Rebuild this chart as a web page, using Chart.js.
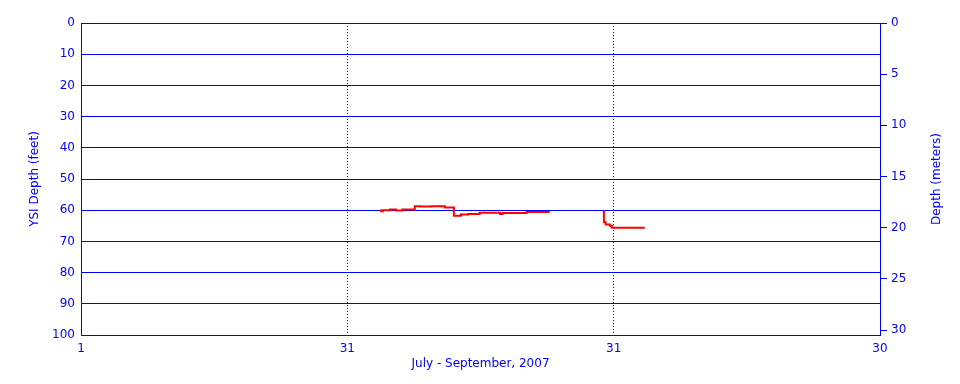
<!DOCTYPE html>
<html>
<head>
<meta charset="utf-8">
<script src="https://cdn.jsdelivr.net/npm/chart.js@4"></script>
<style>
  html, body { margin: 0; padding: 0; background: #fff; }
  canvas { display: block; }
</style>
</head>
<body>
<canvas id="depthChart" width="960" height="384"></canvas>
<script>
// x = days since July 1 (three months drawn as equal thirds)
var xTickValues = [0, 30, 60, 90];
var xTickLabels = ['1', '31', '31', '30'];

// right axis ticks, meters
var meterTicks = [0, 5, 10, 15, 20, 25, 30];

// YSI depth in feet, first deployment (step levels)
var seg1Days = [33.8, 34.0, 34.8, 35.5, 36.2, 37.6, 38.2, 39.5, 41.0, 42.0, 42.8, 43.6, 44.9, 47.2, 47.5, 50.2, 52.4, 52.8];
var seg1Feet = [59.8, 60.3, 60.0, 59.8, 60.1, 59.8, 58.7, 58.8, 58.7, 59.1, 61.8, 61.4, 61.2, 60.8, 61.2, 60.9, 60.6, 60.6];

// second deployment
var seg2Days = [58.9, 59.1, 59.6, 59.8, 60.5, 63.5];
var seg2Feet = [60.1, 63.9, 64.6, 65.1, 65.6, 65.6];

var BLUE = '#0000ff';
var RED = '#ff0000';
var FONT = 'DejaVu Sans';

function toPoints(xs, ys) {
    return xs.map(function (x, i) { return { x: x, y: ys[i] }; });
}

// Chart.js turns right-side titles the other way, so draw it by hand
var rightTitle = {
    id: 'rightTitle',
    afterDraw: function (chart) {
        var ctx = chart.ctx;
        var area = chart.chartArea;
        ctx.save();
        ctx.translate(937, (area.top + area.bottom) / 2);
        ctx.rotate(-Math.PI / 2);
        ctx.fillStyle = BLUE;
        ctx.font = '12px "' + FONT + '"';
        ctx.textAlign = 'center';
        ctx.textBaseline = 'middle';
        ctx.fillText('Depth (meters)', 0, 0);
        ctx.restore();
    }
};

var ctx = document.getElementById('depthChart').getContext('2d');
var chart = new Chart(ctx, {
    type: 'line',
    data: {
        datasets: [
            {
                data: toPoints(seg1Days, seg1Feet),
                borderColor: RED,
                borderWidth: 2,
                pointRadius: 0,
                stepped: 'after',
                yAxisID: 'y'
            },
            {
                data: toPoints(seg2Days, seg2Feet),
                borderColor: RED,
                borderWidth: 2,
                pointRadius: 0,
                stepped: 'after',
                yAxisID: 'y'
            }
        ]
    },
    options: {
        responsive: false,
        animation: false,
        layout: { padding: { top: 23, left: 0, right: 0, bottom: 0 } },
        plugins: {
            legend: { display: false },
            tooltip: { enabled: false }
        },
        scales: {
            x: {
                type: 'linear',
                min: 0,
                max: 90,
                afterBuildTicks: function (scale) {
                    scale.ticks = xTickValues.map(function (v) { return { value: v }; });
                },
                afterFit: function (scale) { scale.height = 49; },
                ticks: {
                    color: BLUE,
                    font: { family: FONT, size: 12 },
                    padding: 7,
                    maxRotation: 0,
                    callback: function (value) {
                        var i = xTickValues.indexOf(value);
                        return i >= 0 ? xTickLabels[i] : '';
                    }
                },
                grid: {
                    drawTicks: false,
                    color: function (c) {
                        return (c.tick && (c.tick.value === 30 || c.tick.value === 60)) ? BLUE : 'rgba(0,0,0,0)';
                    },
                    lineWidth: 1
                },
                border: { color: BLUE, width: 1, dash: [1, 2] },
                title: {
                    display: true,
                    text: 'July - September, 2007',
                    color: BLUE,
                    font: { family: FONT, size: 12 },
                    padding: { top: 13, bottom: 13 }
                }
            },
            y: {
                position: 'left',
                min: 0,
                max: 100,
                reverse: true,
                afterFit: function (scale) { scale.width = 81; },
                ticks: {
                    stepSize: 10,
                    color: BLUE,
                    font: { family: FONT, size: 12 },
                    padding: 6
                },
                grid: {
                    drawTicks: false,
                    color: BLUE,
                    lineWidth: 1
                },
                border: { color: BLUE, width: 1 },
                title: {
                    display: true,
                    text: 'YSI Depth (feet)',
                    color: BLUE,
                    font: { family: FONT, size: 12 },
                    padding: { top: 28, bottom: 28 }
                }
            },
            y2: {
                position: 'right',
                min: 0,
                max: 30.48,
                reverse: true,
                afterBuildTicks: function (scale) {
                    scale.ticks = meterTicks.map(function (v) { return { value: v }; });
                },
                afterFit: function (scale) { scale.width = 80; },
                ticks: {
                    color: BLUE,
                    font: { family: FONT, size: 12 },
                    padding: 4
                },
                grid: {
                    drawOnChartArea: false,
                    drawTicks: true,
                    tickLength: 7,
                    color: BLUE
                },
                border: { color: BLUE, width: 1 }
            }
        }
    },
    plugins: [rightTitle]
});
</script>
</body>
</html>
